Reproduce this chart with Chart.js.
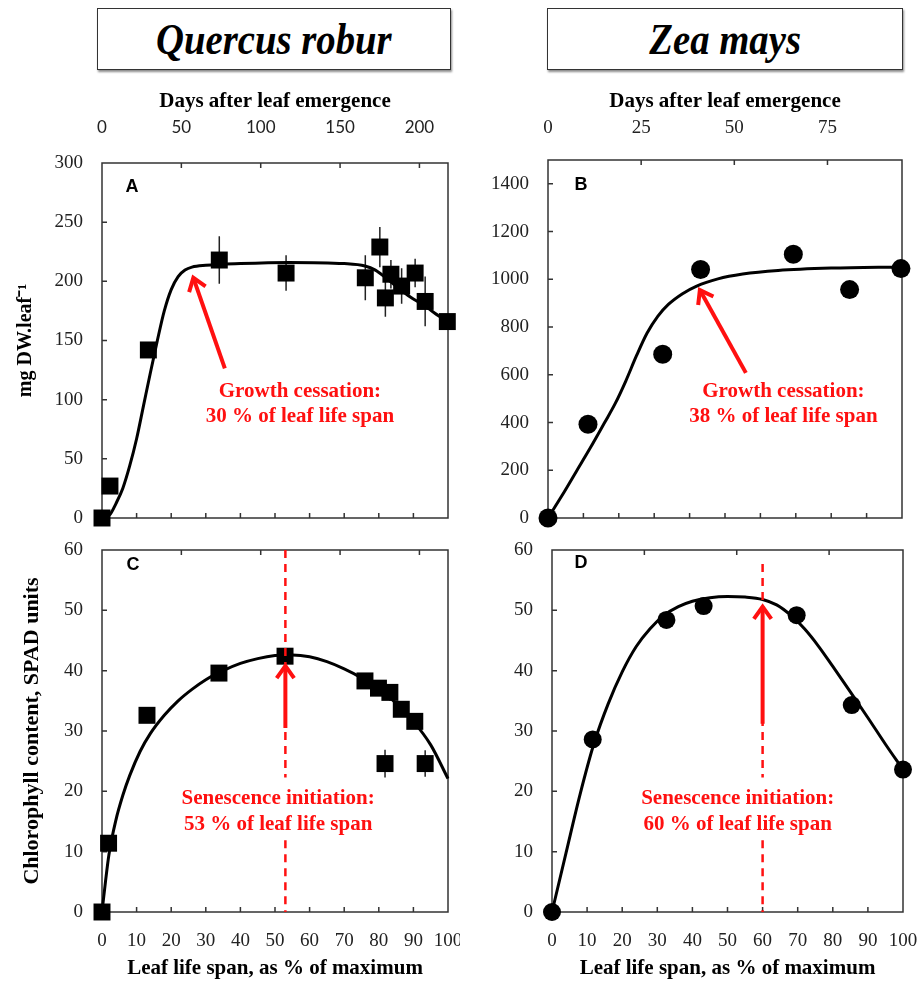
<!DOCTYPE html>
<html><head><meta charset="utf-8">
<script src="https://cdn.jsdelivr.net/npm/chart.js@4.4.1/dist/chart.umd.min.js"></script>
<style>
html,body{margin:0;padding:0;background:#fff;width:921px;height:984px;overflow:hidden;}
.box{position:absolute;top:8px;height:60px;border:1.5px solid #333;box-shadow:1px 2px 2px rgba(0,0,0,.45);display:flex;align-items:center;justify-content:center;font-family:'Liberation Serif',serif;font-weight:bold;font-style:italic;font-size:44px;color:#000;background:#fff;}
.box span{display:inline-block;transform:scaleX(0.88);}
canvas{position:absolute;}
</style></head><body>
<div class="box" style="left:97px;width:352px;"><span>Quercus robur</span></div>
<div class="box" style="left:547px;width:354px;"><span>Zea mays</span></div>
<canvas id="cA" width="460" height="455" style="left:0;top:80px"></canvas>
<canvas id="cB" width="461" height="455" style="left:460px;top:80px"></canvas>
<canvas id="cC" width="460" height="449" style="left:0;top:535px"></canvas>
<canvas id="cD" width="461" height="449" style="left:460px;top:535px"></canvas>
<script>
// ---------- data ----------
// Panel A: Quercus robur, dry weight (mg DW.leaf-1)
const pctA   = [0, 2.3, 13.4, 33.9, 53.2, 76.1, 80.3, 81.9, 83.5, 86.6, 90.5, 93.4, 99.8];
const dwA    = [0, 27, 142, 218, 207, 203, 229, 186, 206, 196, 207, 183, 166];
const dwAErr = [0, 0, 0, 20, 15, 19, 17, 16, 12, 15, 12, 21, 0];
const fitAx  = [0, 2.3, 4, 6, 8, 10, 12, 14, 16, 18, 20, 22, 24, 26, 30, 40, 54, 70, 76, 79, 82, 85.2, 89, 92.9, 97.7, 100];
const fitAy  = [0, 3, 12, 25, 44, 67, 95, 123, 150, 175, 193, 204, 209.5, 212, 213.5, 215, 216, 215, 213, 209.5, 203, 195.5, 187, 180, 170, 166];
// Panel B: Zea mays, dry weight
const pctB   = [0, 11.3, 32.4, 43.1, 69.3, 85.2, 99.7];
const dwB    = [0, 393, 686, 1041, 1105, 957, 1045];
const fitBx  = [0, 4, 8, 12, 16, 19, 22, 25, 28, 31, 34, 38, 42, 48, 55, 65, 80, 100];
const fitBy  = [0, 95, 195, 295, 400, 480, 575, 680, 775, 845, 895, 940, 972, 1002, 1022, 1037, 1047, 1052];
// Panel C: Quercus robur, chlorophyll (SPAD)
const pctC     = [0, 1.9, 13.0, 33.8, 52.9, 76.0, 79.9, 83.2, 86.5, 90.4, 81.8, 93.4];
const spadC    = [0, 11.4, 32.6, 39.6, 42.4, 38.3, 37.1, 36.4, 33.6, 31.6, 24.6, 24.6];
const spadCErr = [0, 0, 0, 0, 0, 0, 0, 1.4, 0, 0, 2.3, 2.2];
const fitCx    = [0, 1, 2, 4, 6, 8, 11, 14, 18, 22, 26, 30, 35, 40, 45, 50, 55, 60, 65, 70, 75, 80, 85, 90, 95, 100];
const fitCy    = [0, 5, 9.5, 15.2, 19.3, 22.6, 26.6, 29.6, 32.6, 35.0, 36.9, 38.5, 40.0, 41.2, 42.0, 42.5, 42.6, 42.3, 41.5, 40.3, 38.8, 36.9, 34.6, 31.6, 27.7, 22.1];
// Panel D: Zea mays, chlorophyll (SPAD)
const pctD   = [0, 11.6, 32.6, 43.2, 69.7, 85.4, 100];
const spadD  = [0, 28.6, 48.4, 50.7, 49.2, 34.3, 23.6];
const fitDx  = [0, 4, 8, 12, 16, 20, 24, 28, 32, 36, 40, 45, 50, 55, 60, 64, 68, 72, 76, 80, 85, 90, 95, 100];
const fitDy  = [0, 9.8, 19.5, 28, 34.5, 39.8, 44, 47, 49.2, 50.6, 51.5, 52.1, 52.3, 52.2, 51.8, 50.9, 49.2, 46.9, 44, 40.7, 36.5, 32.2, 27.8, 23.6];

// tick values
const pctTicks   = [0, 10, 20, 30, 40, 50, 60, 70, 80, 90, 100];
const yTicksA    = [0, 50, 100, 150, 200, 250, 300];
const yTicksB    = [0, 200, 400, 600, 800, 1000, 1200, 1400];
const yTicksSpad = [0, 10, 20, 30, 40, 50, 60];
const dayTicksA  = [0, 50, 100, 150, 200];
const dayTicksB  = [0, 25, 50, 75];
const daysMaxA = 218, daysMaxB = 95;

// annotations (data coordinates)
const arrowA = [35.5, 126.5, 26.4, 203];
const arrowB = [55.9, 608, 42.9, 955];
const arrowC = [53, 30.5, 53, 40.8];
const arrowD = [60, 31.2, 60, 50.6];
const senC = 53, senD = 60;
const noteA = ['Growth cessation:', '30 % of leaf life span'];
const noteB = ['Growth cessation:', '38 % of leaf life span'];
const noteC = ['Senescence initiation:', '53 % of leaf life span'];
const noteD = ['Senescence initiation:', '60 % of leaf life span'];

// ---------- rendering ----------
const SERIF = "'Liberation Serif', 'Times New Roman', serif";
const pts = (xs, ys) => xs.map((x, i) => ({x, y: ys[i]}));

const panelCfg = {
  cA: {letter:'A', lx:30, ly:24, err:[pctA, dwA, dwAErr], arrow:arrowA,
       note:noteA, noteX:57.2, noteY:[106.5, 85.4]},
  cB: {letter:'B', lx:33, ly:25, arrow:arrowB, note:noteB, noteX:66.5, noteY:[528, 423]},
  cC: {letter:'C', lx:31, ly:15, err:[pctC, spadC, spadCErr], arrow:arrowC, note:noteC,
       noteX:50.9, noteY:[18.8, 14.5], dash:[senC, [[60, 22.3], [11.9, 0]]]},
  cD: {letter:'D', lx:29, ly:13.5, arrow:arrowD, note:noteD, noteX:52.9, noteY:[18.8, 14.5],
       dash:[senD, [[57.7, 22.3], [11.9, 0]]]}
};

function drawArrow(ctx, x1, y1, x2, y2) {
  ctx.beginPath(); ctx.moveTo(x1, y1); ctx.lineTo(x2, y2); ctx.stroke();
  const a = Math.atan2(y2 - y1, x2 - x1), h = 15, s = 0.62;
  ctx.beginPath();
  ctx.moveTo(x2 - h * Math.cos(a - s), y2 - h * Math.sin(a - s));
  ctx.lineTo(x2, y2);
  ctx.lineTo(x2 - h * Math.cos(a + s), y2 - h * Math.sin(a + s));
  ctx.stroke();
}

const extras = {
  id: 'extras',
  beforeDatasetsDraw(chart) {
    const cfg = panelCfg[chart.canvas.id]; if (!cfg) return;
    const ctx = chart.ctx, a = chart.chartArea;
    const xs = chart.scales.x, x2 = chart.scales.x2, ys = chart.scales.y;
    ctx.save();
    ctx.strokeStyle = '#333'; ctx.lineWidth = 1.5;
    ctx.strokeRect(a.left, a.top, a.right - a.left, a.bottom - a.top);
    const L = 5;
    ctx.beginPath();
    for (const t of xs.ticks) { if (t.value <= xs.min || t.value >= xs.max) continue;
      const p = xs.getPixelForValue(t.value); ctx.moveTo(p, a.bottom); ctx.lineTo(p, a.bottom - L); }
    for (const t of x2.ticks) { if (t.value <= x2.min || t.value >= x2.max) continue;
      const p = x2.getPixelForValue(t.value); ctx.moveTo(p, a.top); ctx.lineTo(p, a.top + L); }
    for (const t of ys.ticks) { if (t.value <= ys.min || t.value >= ys.max) continue;
      const p = ys.getPixelForValue(t.value); ctx.moveTo(a.left, p); ctx.lineTo(a.left + L, p); }
    ctx.stroke();
    if (cfg.err) {
      const [px, py, pe] = cfg.err;
      ctx.strokeStyle = '#222'; ctx.lineWidth = 1.5; ctx.beginPath();
      px.forEach((x, i) => { if (!pe[i]) return;
        const X = xs.getPixelForValue(x);
        ctx.moveTo(X, ys.getPixelForValue(py[i] - pe[i])); ctx.lineTo(X, ys.getPixelForValue(py[i] + pe[i])); });
      ctx.stroke();
    }
    ctx.restore();
  },
  afterDatasetsDraw(chart) {
    const cfg = panelCfg[chart.canvas.id]; if (!cfg) return;
    const ctx = chart.ctx, a = chart.chartArea;
    const xs = chart.scales.x, ys = chart.scales.y;
    ctx.save();
    ctx.strokeStyle = '#ff1010'; ctx.fillStyle = '#ff1010';
    if (cfg.dash) {
      const X = xs.getPixelForValue(cfg.dash[0]);
      ctx.lineWidth = 2.5; ctx.setLineDash([8, 6]);
      for (const [y1, y2] of cfg.dash[1]) {
        ctx.beginPath(); ctx.moveTo(X, ys.getPixelForValue(y1)); ctx.lineTo(X, ys.getPixelForValue(y2)); ctx.stroke();
      }
      ctx.setLineDash([]);
    }
    const ar = cfg.arrow;
    ctx.lineWidth = 4; ctx.lineCap = 'butt'; ctx.lineJoin = 'miter';
    drawArrow(ctx, xs.getPixelForValue(ar[0]), ys.getPixelForValue(ar[1]), xs.getPixelForValue(ar[2]), ys.getPixelForValue(ar[3]));
    ctx.font = 'bold 21px ' + SERIF; ctx.textAlign = 'center'; ctx.textBaseline = 'middle';
    cfg.note.forEach((s, i) => ctx.fillText(s, xs.getPixelForValue(cfg.noteX), ys.getPixelForValue(cfg.noteY[i])));
    ctx.fillStyle = '#000';
    ctx.font = "bold 18px 'Liberation Sans', Arial, sans-serif";
    ctx.fillText(cfg.letter, a.left + cfg.lx, a.top + cfg.ly);
    ctx.restore();
  }
};
Chart.register(extras);

function setTicks(arr) { return s => { s.ticks = arr.map(v => ({value: v})); }; }
function noPad(s) { s.paddingLeft = 0; s.paddingRight = 0; s.paddingTop = 0; s.paddingBottom = 0; }

function makePanel(id, o) {
  const tickFont = {family: SERIF, size: 19};
  const titleFont = {family: SERIF, size: 21, weight: 'bold'};
  return new Chart(document.getElementById(id), {
    type: 'scatter',
    data: {datasets: [
      {type: 'scatter', data: o.points, pointStyle: o.pointStyle, pointRadius: o.r, pointHoverRadius: o.r,
       backgroundColor: '#000', borderColor: '#000', borderWidth: 0, clip: false, order: 0},
      {type: 'line', data: o.fit, borderColor: '#000', borderWidth: 3, pointRadius: 0, fill: false,
       cubicInterpolationMode: 'monotone', clip: false, order: 1}
    ]},
    options: {
      responsive: false, animation: false, devicePixelRatio: 1,
      layout: {padding: {left: 0, top: 0, right: o.padR, bottom: o.padB}},
      plugins: {legend: {display: false}, tooltip: {enabled: false}},
      events: [],
      scales: {
        x: {type: 'linear', position: 'bottom', min: 0, max: 100,
            afterBuildTicks: setTicks(pctTicks),
            ticks: {display: o.bottomLabels, font: tickFont, color: '#222', padding: 18, autoSkip: false, maxRotation: 0,
                    callback: v => String(v)},
            grid: {display: false, drawTicks: false}, border: {display: false},
            title: {display: o.bottomLabels, text: 'Leaf life span, as % of maximum', font: titleFont, color: '#000',
                    padding: {top: 0, bottom: 3}},
            afterFit: s => { s.height = o.bottomH; noPad(s); }},
        x2: {type: 'linear', position: 'top', min: 0, max: o.daysMax,
            afterBuildTicks: setTicks(o.dayTicks),
            ticks: {display: o.topLabels, font: o.topFont, color: '#222', padding: o.topPad, autoSkip: false, maxRotation: 0,
                    callback: v => String(v)},
            grid: {display: false, drawTicks: false}, border: {display: false},
            title: {display: o.topLabels, text: 'Days after leaf emergence', font: titleFont, color: '#000',
                    padding: {top: 9, bottom: 0}},
            afterFit: s => { s.height = o.topH; noPad(s); }},
        y: {type: 'linear', position: 'left', min: 0, max: o.yMax,
            afterBuildTicks: setTicks(o.yTicks),
            ticks: {font: tickFont, color: '#222', padding: 19, autoSkip: false, callback: v => String(v)},
            grid: {display: false, drawTicks: false}, border: {display: false},
            title: {display: !!o.yTitle, text: o.yTitle || '', font: {family: SERIF, size: o.yTitleSize || 20, weight: 'bold'}, color: '#000',
                    padding: {top: o.yTitlePad || 0, bottom: 0}},
            afterFit: s => { s.width = o.yW; noPad(s); }}
      }
    }
  });
}

makePanel('cA', {points: pts(pctA, dwA), fit: pts(fitAx, fitAy), pointStyle: 'rect', r: 12,
  padR: 12, padB: 17, bottomLabels: false, bottomH: 0, daysMax: daysMaxA, dayTicks: dayTicksA,
  topLabels: true, topFont: {family: "Lato, 'Open Sans', sans-serif", size: 17}, topPad: 25, topH: 83,
  yMax: 300, yTicks: yTicksA, yW: 102, yTitle: 'mg DW.leaf\u207B\u00B9', yTitleSize: 20, yTitlePad: 14});
makePanel('cB', {points: pts(pctB, dwB), fit: pts(fitBx, fitBy), pointStyle: 'circle', r: 9.5,
  padR: 19, padB: 17, bottomLabels: false, bottomH: 0, daysMax: daysMaxB, dayTicks: dayTicksB,
  topLabels: true, topFont: {family: SERIF, size: 19}, topPad: 21, topH: 80,
  yMax: 1500, yTicks: yTicksB, yW: 88});
makePanel('cC', {points: pts(pctC, spadC), fit: pts(fitCx, fitCy), pointStyle: 'rect', r: 12,
  padR: 12, padB: 0, bottomLabels: true, bottomH: 72, daysMax: daysMaxA, dayTicks: dayTicksA,
  topLabels: false, topFont: {family: SERIF, size: 19}, topPad: 0, topH: 15,
  yMax: 60, yTicks: yTicksSpad, yW: 102, yTitle: 'Chlorophyll content, SPAD units', yTitleSize: 22, yTitlePad: 19});
makePanel('cD', {points: pts(pctD, spadD), fit: pts(fitDx, fitDy), pointStyle: 'circle', r: 9,
  padR: 18, padB: 0, bottomLabels: true, bottomH: 72, daysMax: daysMaxB, dayTicks: dayTicksB,
  topLabels: false, topFont: {family: SERIF, size: 19}, topPad: 0, topH: 15,
  yMax: 60, yTicks: yTicksSpad, yW: 92});
</script>
</body></html>
